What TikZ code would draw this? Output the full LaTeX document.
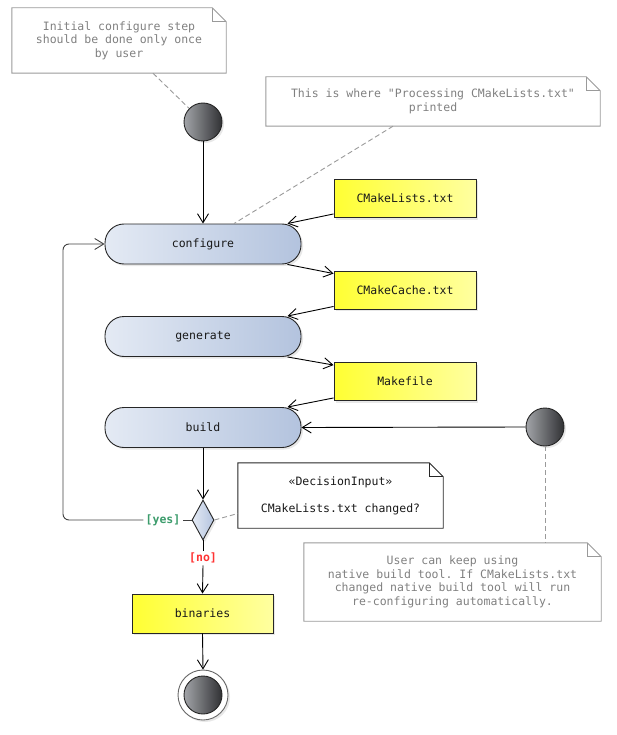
\documentclass[tikz,border=0pt]{standalone}
\usepackage{fontspec}
\setmonofont{DejaVu Sans Mono}
\usetikzlibrary{arrows.meta,shapes.geometric,shadows}
\definecolor{actL}{HTML}{E4EAF4}
\definecolor{actR}{HTML}{B3C3DE}
\definecolor{ylL}{HTML}{FFFF33}
\definecolor{ylR}{HTML}{FFFFA0}
\definecolor{noteTxt}{HTML}{808080}
\definecolor{noteLine}{HTML}{9A9A9A}
\definecolor{yesC}{HTML}{3C9C6C}
\definecolor{noC}{HTML}{FF3333}
\definecolor{ballL}{HTML}{A2A4A8}
\definecolor{ballR}{HTML}{303134}
\newcommand\drawnote[3]{%
  \draw[#3, line width=0.9pt] (#1.south west) -- (#1.north west) -- ([xshift=-#2]#1.north east) -- ([yshift=-#2]#1.north east) -- (#1.south east) -- cycle;
  \draw[#3, line width=0.9pt] ([xshift=-#2]#1.north east) |- ([yshift=-#2]#1.north east);
}
\begin{document}
\begin{tikzpicture}[x=1pt,y=-1pt, font=\ttfamily\fontsize{11.5}{13.5}\selectfont,
  shadowed/.style={drop shadow={opacity=0.18,shadow xshift=2pt,shadow yshift=-2pt}},
  act/.style={draw=black!85, line width=0.9pt, rounded corners=19pt, minimum width=196pt, minimum height=40pt, left color=actL, right color=actR, text=black!90, shadowed},
  art/.style={draw=black!85, line width=0.9pt, minimum width=142pt, minimum height=38pt, left color=ylL, right color=ylR, text=black!90, shadowed},
  ball/.style={circle, draw=black!85, line width=0.9pt, minimum size=38pt, inner sep=0pt, left color=ballL, right color=ballR},
  flow/.style={line width=0.9pt, -{Straight Barb[length=9pt,width=11pt]}},
  link/.style={dash pattern=on 5pt off 3pt, draw=noteLine, line width=0.9pt},
  note/.style={align=center, text=noteTxt, inner sep=0pt},
  guard/.style={font=\ttfamily\fontsize{11.5}{13.5}\selectfont\bfseries, inner sep=2pt, fill=white},
]
\useasboundingbox (0,0) rectangle (616,735);

% notes
\node[note, minimum width=214pt, minimum height=65pt] (n1) at (119,40.5) {Initial configure step\\should be done only once\\by user};
\drawnote{n1}{14pt}{noteLine}
\node[note, minimum width=334pt, minimum height=49pt] (n2) at (433,101.5) {This is where "Processing CMakeLists.txt"\\printed};
\drawnote{n2}{14pt}{noteLine}
\node[note, minimum width=297pt, minimum height=78pt] (n3) at (452.5,582) {User can keep using\\native build tool. If CMakeLists.txt\\changed native build tool will run\\re-configuring automatically.};
\drawnote{n3}{14pt}{noteLine}
\node[note, text=black!90, minimum width=205pt, minimum height=65pt] (nd) at (340.5,495.5) {«DecisionInput»\\[13.5pt]CMakeLists.txt changed?};
\drawnote{nd}{14pt}{black!85}

% start / end
\node[ball, shadowed] (s1) at (203,122) {};
\node[ball, shadowed] (s2) at (545,427) {};
\node[circle, draw=black!60, line width=0.9pt, fill=white, minimum size=50pt, inner sep=0pt, shadowed] (endo) at (203,695) {};
\node[ball] (endi) at (203,695) {};

% activities
\node[act] (cfg) at (203,244) {configure};
\node[act] (gen) at (203,336.5) {generate};
\node[act] (bld) at (203,427.5) {build};

% artifacts
\node[art] (lists) at (405,198.5) {CMakeLists.txt};
\node[art] (cache) at (405,290) {CMakeCache.txt};
\node[art] (mk) at (405,381.5) {Makefile};
\node[art, minimum width=141pt, minimum height=39pt] (bin) at (202.5,613.5) {binaries};

% decision
\node[diamond, draw=black!85, line width=0.9pt, minimum width=22pt, minimum height=40pt, inner sep=0pt, left color=actL, right color=actR, shadowed] (dec) at (203,520) {};

% guards
\node[guard, text=yesC] (yes) at (163,520) {[yes]};
\node[guard, text=noC] (no) at (203,558) {[no]};
\coordinate (loop) at (63,380);

% dashed links
\draw[link] ([xshift=34pt]n1.south) -- (s1);
\draw[link] ([xshift=-40pt]n2.south) -- ([xshift=31pt]cfg.north);
\draw[link] (s2.south) -- (s2.south |- n3.north);
\draw[link] (dec.east) -- ([yshift=-18pt]nd.west);

% flows
\draw[flow] (s1.south) -- (cfg.north);
\draw[flow] ([yshift=4pt]lists.south west) -- ([xshift=-14pt]cfg.north east);
\draw[flow] ([xshift=-14pt]cfg.south east) -- ([yshift=-3pt]cache.north west);
\draw[flow] ([yshift=3pt]cache.south west) -- ([xshift=-14pt]gen.north east);
\draw[flow] ([xshift=-14pt]gen.south east) -- ([yshift=-3pt]mk.north west);
\draw[flow] ([yshift=3pt]mk.south west) -- ([xshift=-14pt]bld.north east);
\draw[flow] (s2.west) -- (bld.east);
\draw[flow] (bld.south) -- (dec.north);
\draw[line width=0.9pt, black!75] (dec.west) -- (yes.east);
\draw[flow, black!75, rounded corners=6pt] (yes.west) -| (loop) |- (cfg.west);
\draw[line width=0.9pt] (dec.south) -- (no.north);
\draw[flow] (no.south) -- (bin.north);
\draw[flow] (bin.south) -- (endo.north);
\end{tikzpicture}
\end{document}
